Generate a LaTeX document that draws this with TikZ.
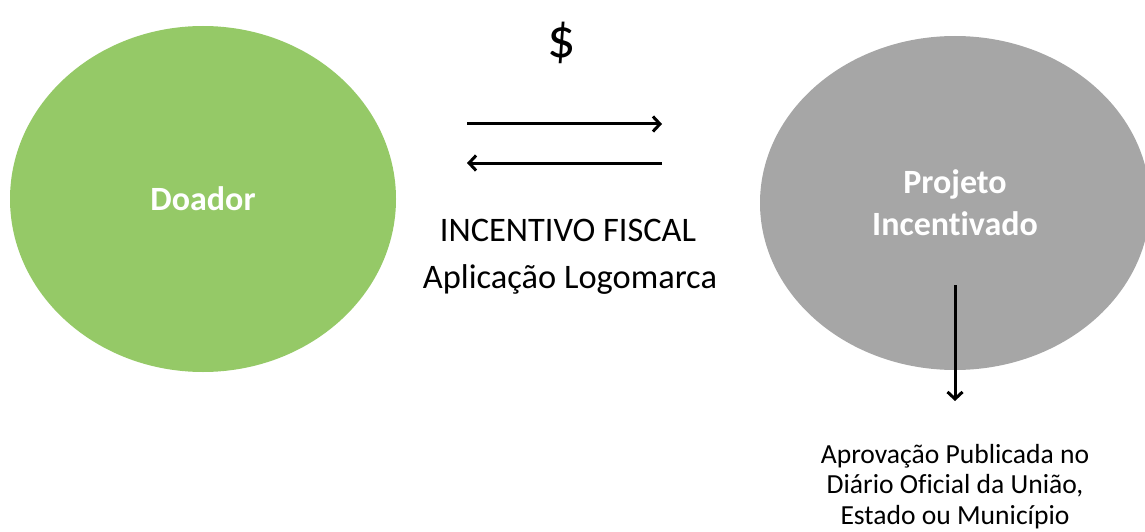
\documentclass[tikz,border=0pt]{standalone}
\usepackage{fontspec}
\usepackage{xcolor}
\setmainfont[Ligatures=NoCommon]{Carlito}
\usetikzlibrary{arrows.meta,shapes.geometric}

\definecolor{doadorgreen}{HTML}{95C967}
\definecolor{projetogray}{HTML}{A6A6A6}

\begin{document}
\begin{tikzpicture}[x=1pt,y=-1pt]
\tikzset{every node/.style={inner sep=0pt}}
\tikzset{blob/.style={ellipse,text=white,font=\bfseries\fontsize{34}{42}\selectfont,align=center}}
\tikzset{flowtext/.style={font=\fontsize{34.4}{40}\selectfont,anchor=base}}
\tikzset{flow/.style={-{Straight Barb[length=7pt,width=15pt,line width=3pt]},line width=3pt}}

\useasboundingbox (0,0) rectangle (1145,532);

\node[blob,fill=doadorgreen,minimum width=386pt,minimum height=346pt] (doador) at (203,199) {Doador};
\node[blob,fill=projetogray,minimum width=390pt,minimum height=334pt] (projeto) at (955,203) {Projeto\\Incentivado};

\node[font=\fontsize{56}{60}\selectfont,anchor=base] (dolar) at (562,58) {\$};
\node[flowtext] (incentivo) at (568,241) {INCENTIVO FISCAL};
\node[flowtext] (logo) at (570,288) {Aplicação Logomarca};
\node[font=\fontsize{27.6}{30.5}\selectfont,align=center,anchor=north] (aprovacao) at (955,444)
  {Aprovação Publicada no\\Diário Oficial da União,\\Estado ou Município};

\coordinate (ida1) at (467,124);
\coordinate (ida2) at (662,124);
\coordinate (volta1) at (662,163);
\coordinate (volta2) at (467,163);
\coordinate (desce1) at (955,285);
\coordinate (desce2) at (955,401);

\draw[flow] (ida1) -- (ida2);
\draw[flow] (volta1) -- (volta2);
\draw[flow] (desce1) -- (desce2);

\end{tikzpicture}
\end{document}
